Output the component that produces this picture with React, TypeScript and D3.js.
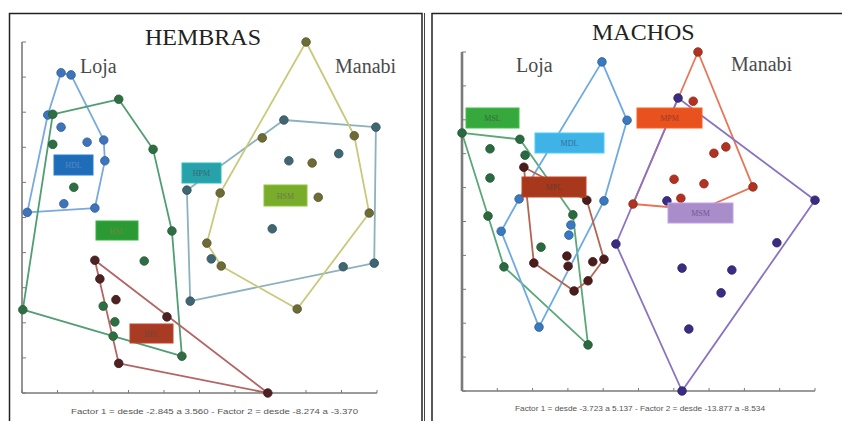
import React from 'react';
import * as d3 from 'd3';

type Pt = [number, number];

// ---------- HEMBRAS (Factor 1 vs Factor 2) ----------
const hembrasFactor1: [number, number] = [-2.845, 3.56];
const hembrasFactor2: [number, number] = [-8.274, -3.37];

const HDL: Pt[] = [
  [-2.14, -3.8], [-1.96, -3.83], [-2.38, -4.39], [-2.14, -4.56], [-1.67, -4.77],
  [-1.37, -4.74], [-1.35, -5.03], [-1.53, -5.69], [-2.09, -5.63], [-2.75, -5.75],
];
const HSL: Pt[] = [
  [-2.29, -4.38], [-1.1, -4.17], [-0.48, -4.87], [-0.14, -6.01], [0.04, -7.76],
  [-1.2, -7.48], [-2.83, -7.11], [-2.29, -4.8], [-1.91, -5.4], [-0.64, -6.43],
  [-1.38, -7.06], [-1.17, -7.28],
];
const HPL: Pt[] = [
  [-1.53, -6.42], [-1.44, -6.68], [-1.15, -6.97], [-0.23, -7.21], [-1.1, -7.86], [1.59, -8.274],
];
const HPM: Pt[] = [
  [1.88, -4.46], [3.54, -4.56], [3.51, -6.46], [2.95, -6.51], [0.19, -6.99],
  [0.13, -5.44], [1.97, -5.03], [2.87, -4.93], [1.67, -5.98], [0.57, -6.4],
];
const HSM: Pt[] = [
  [2.28, -3.37], [3.15, -4.68], [3.42, -5.76], [2.12, -7.1], [0.75, -6.5],
  [0.49, -6.18], [0.73, -5.48], [1.49, -4.71], [2.39, -5.06], [2.5, -5.54],
];

// ---------- MACHOS ----------
const machosFactor1: [number, number] = [-3.723, 5.137];
const machosFactor2: [number, number] = [-13.877, -8.534];

const MSL: Pt[] = [
  [-3.723, -9.81], [-2.27, -9.91], [-0.94, -11.1], [-0.56, -13.15], [-2.67, -11.92],
  [-3.07, -11.12], [-3.02, -10.06], [-2.14, -10.16], [-3.02, -10.52], [-1.74, -11.61],
];
const MDL: Pt[] = [
  [-0.21, -8.69], [0.42, -9.61], [-0.16, -10.88], [-1.79, -12.87], [-2.74, -11.36],
  [-2.29, -10.85], [-0.99, -11.26], [-1.04, -11.42],
];
const MPL: Pt[] = [
  [-2.17, -10.35], [-0.59, -10.87], [-0.16, -11.8], [-0.56, -12.14], [-0.91, -12.3],
  [-1.92, -11.86], [-1.09, -11.75], [-1.06, -11.91], [-0.44, -11.84],
];
const MPM: Pt[] = [
  [2.2, -8.534], [3.58, -10.66], [2.25, -11.02], [0.57, -10.93], [2.08, -9.31],
  [2.9, -10.03], [2.6, -10.13], [1.6, -10.54], [2.35, -10.61], [1.77, -10.84],
];
const MSM: Pt[] = [
  [1.7, -9.26], [5.137, -10.87], [1.8, -13.877], [0.14, -11.56], [1.42, -10.88],
  [1.8, -11.94], [3.05, -11.97], [2.78, -12.33], [1.97, -12.9], [4.18, -11.54],
];

const hembrasGroups = ['HDL', 'HSL', 'HPL', 'HPM', 'HSM'];
const machosGroups = ['MSL', 'MDL', 'MPL', 'MPM', 'MSM'];
const groupData: Record<string, Pt[]> = { HDL, HSL, HPL, HPM, HSM, MSL, MDL, MPL, MPM, MSM };

const style: Record<string, { pt: string; line: string; box: string; txt: string }> = {
  HDL: { pt: '#3e74bb', line: '#78aadf', box: '#1f6db8', txt: '#5a86c4' },
  HSL: { pt: '#2f6e42', line: '#4f9e74', box: '#2c9a34', txt: '#6a8a3c' },
  HPL: { pt: '#4e2222', line: '#b46464', box: '#a83b24', txt: '#6a4a3a' },
  HPM: { pt: '#3f6672', line: '#8cb2be', box: '#27a1aa', txt: '#3a6a72' },
  HSM: { pt: '#6d6b36', line: '#c9c97c', box: '#7aac2c', txt: '#6a7a4a' },
  MSL: { pt: '#2a6a40', line: '#5aa878', box: '#36a83e', txt: '#3c6a3a' },
  MDL: { pt: '#3a78c0', line: '#6eaae2', box: '#3fb3e6', txt: '#3a6a9a' },
  MPL: { pt: '#4a1c1c', line: '#b46452', box: '#a8381c', txt: '#6a3a2a' },
  MPM: { pt: '#b23222', line: '#e87656', box: '#e8521e', txt: '#9a3a2a' },
  MSM: { pt: '#3a2c82', line: '#8a72c2', box: '#a98cca', txt: '#6a5a8a' },
};

// label boxes in pixel space (annotation layout)
const boxes: Record<string, [number, number, number, number]> = {
  HDL: [54, 155, 39, 20],
  HSL: [96, 221, 42, 19],
  HPL: [130, 324, 43, 19],
  HPM: [182, 163, 39, 20],
  HSM: [264, 185, 43, 21],
  MSL: [466, 108, 53, 20],
  MDL: [535, 133, 69, 20],
  MPL: [522, 177, 64, 20],
  MPM: [637, 108, 65, 20],
  MSM: [668, 203, 65, 20],
};

interface PanelProps {
  title: string;
  titleX: number;
  titleY: number;
  xDom: [number, number];
  yDom: [number, number];
  xr: [number, number];
  yr: [number, number];
  groups: string[];
  loja: [number, number];
  manabi: [number, number];
  footer: string;
  footerX: number;
  footerY: number;
  footerW: number;
  yAxisW: number;
}

function Panel(p: PanelProps) {
  const x = d3.scaleLinear().domain(p.xDom).range(p.xr);
  const y = d3.scaleLinear().domain(p.yDom).range(p.yr);
  const xt = d3.range(11).map((i) => p.xDom[0] + (i * (p.xDom[1] - p.xDom[0])) / 10);
  const yt = d3.range(11).map((i) => p.yDom[0] + (i * (p.yDom[1] - p.yDom[0])) / 10);
  const axisColor = '#7a7a7a';
  return (
    <g>
      {/* axes */}
      <line x1={x(p.xDom[0])} x2={x(p.xDom[1])} y1={y(p.yDom[0])} y2={y(p.yDom[0])} stroke={axisColor} strokeWidth={1.6} />
      <line x1={x(p.xDom[0])} x2={x(p.xDom[0])} y1={y(p.yDom[0])} y2={y(p.yDom[1])} stroke={axisColor} strokeWidth={p.yAxisW} />
      {xt.map((v, i) => (
        <line key={'xt' + i} x1={x(v)} x2={x(v)} y1={y(p.yDom[0])} y2={y(p.yDom[0]) - 3} stroke={axisColor} strokeWidth={1} />
      ))}
      {yt.map((v, i) => (
        <line key={'yt' + i} x1={x(p.xDom[0])} x2={x(p.xDom[0]) + 4} y1={y(v)} y2={y(v)} stroke={axisColor} strokeWidth={1} />
      ))}
      {/* hulls */}
      {p.groups.map((g) => {
        const hull = d3.polygonHull(groupData[g].map((d) => [x(d[0]), y(d[1])] as [number, number]));
        if (!hull) return null;
        const path = 'M' + hull.map((q) => q.join(',')).join('L') + 'Z';
        return <path key={'h' + g} d={path} fill="none" stroke={style[g].line} strokeWidth={1.8} strokeLinejoin="round" />;
      })}
      {/* points */}
      {p.groups.map((g) =>
        groupData[g].map((d, i) => (
          <circle
            key={g + i}
            cx={x(d[0])}
            cy={y(d[1])}
            r={4.3}
            fill={style[g].pt}
            stroke={d3.color(style[g].pt)!.darker(0.6).toString()}
            strokeWidth={0.8}
          />
        ))
      )}
      {/* label boxes */}
      {p.groups.map((g) => {
        const [bx, by, bw, bh] = boxes[g];
        return (
          <g key={'b' + g}>
            <rect x={bx} y={by} width={bw} height={bh} fill={style[g].box} stroke={d3.color(style[g].box)!.brighter(0.4).toString()} strokeWidth={1} />
            <text x={bx + bw / 2} y={by + bh / 2 + 3} textAnchor="middle" fontFamily="Liberation Serif, serif" fontSize={8} fill={style[g].txt}>
              {g}
            </text>
          </g>
        );
      })}
      {/* texts */}
      <text x={p.titleX} y={p.titleY} fontFamily="Liberation Serif, serif" fontSize={24} fill="#222">
        {p.title}
      </text>
      <text x={p.loja[0]} y={p.loja[1]} fontFamily="Liberation Serif, serif" fontSize={20} fill="#4a4a4a">
        Loja
      </text>
      <text x={p.manabi[0]} y={p.manabi[1]} fontFamily="Liberation Serif, serif" fontSize={20} fill="#4a4a4a">
        Manabi
      </text>
      <text
        x={p.footerX}
        y={p.footerY}
        fontFamily="Liberation Sans, Arial, sans-serif"
        fontSize={7.5}
        fill="#555"
        textLength={p.footerW}
        lengthAdjust="spacingAndGlyphs"
      >
        {p.footer}
      </text>
    </g>
  );
}

export default function App() {
  return (
    <svg width={842} height={421} style={{ position: 'absolute', left: 0, top: 0, background: '#fff' }}>
      <rect x={0} y={0} width={842} height={421} fill="#fff" />
      {/* panel frames */}
      <path d="M9.5,425 L9.5,13.5 L422,13.5 L422,425" fill="none" stroke="#222" strokeWidth={1.5} />
      <line x1={424.5} x2={424.5} y1={13} y2={425} stroke="#444" strokeWidth={1} />
      <path d="M432,425 L432,13.5 L845,13.5" fill="none" stroke="#222" strokeWidth={1.5} />
      <Panel
        title="HEMBRAS"
        titleX={145}
        titleY={45}
        xDom={hembrasFactor1}
        yDom={hembrasFactor2}
        xr={[22, 377]}
        yr={[393, 42]}
        groups={hembrasGroups}
        loja={[80, 73]}
        manabi={[335, 73]}
        footer="Factor 1 = desde -2.845  a  3.560  -  Factor 2 = desde -8.274  a  -3.370"
        footerX={71}
        footerY={414}
        footerW={287}
        yAxisW={1.6}
      />
      <Panel
        title="MACHOS"
        titleX={592}
        titleY={40}
        xDom={machosFactor1}
        yDom={machosFactor2}
        xr={[462, 815]}
        yr={[391, 52]}
        groups={machosGroups}
        loja={[516, 72]}
        manabi={[731, 71]}
        footer="Factor 1 = desde -3.723  a  5.137  -  Factor 2 = desde -13.877  a  -8.534"
        footerX={515}
        footerY={411}
        footerW={250}
        yAxisW={2.6}
      />
    </svg>
  );
}
